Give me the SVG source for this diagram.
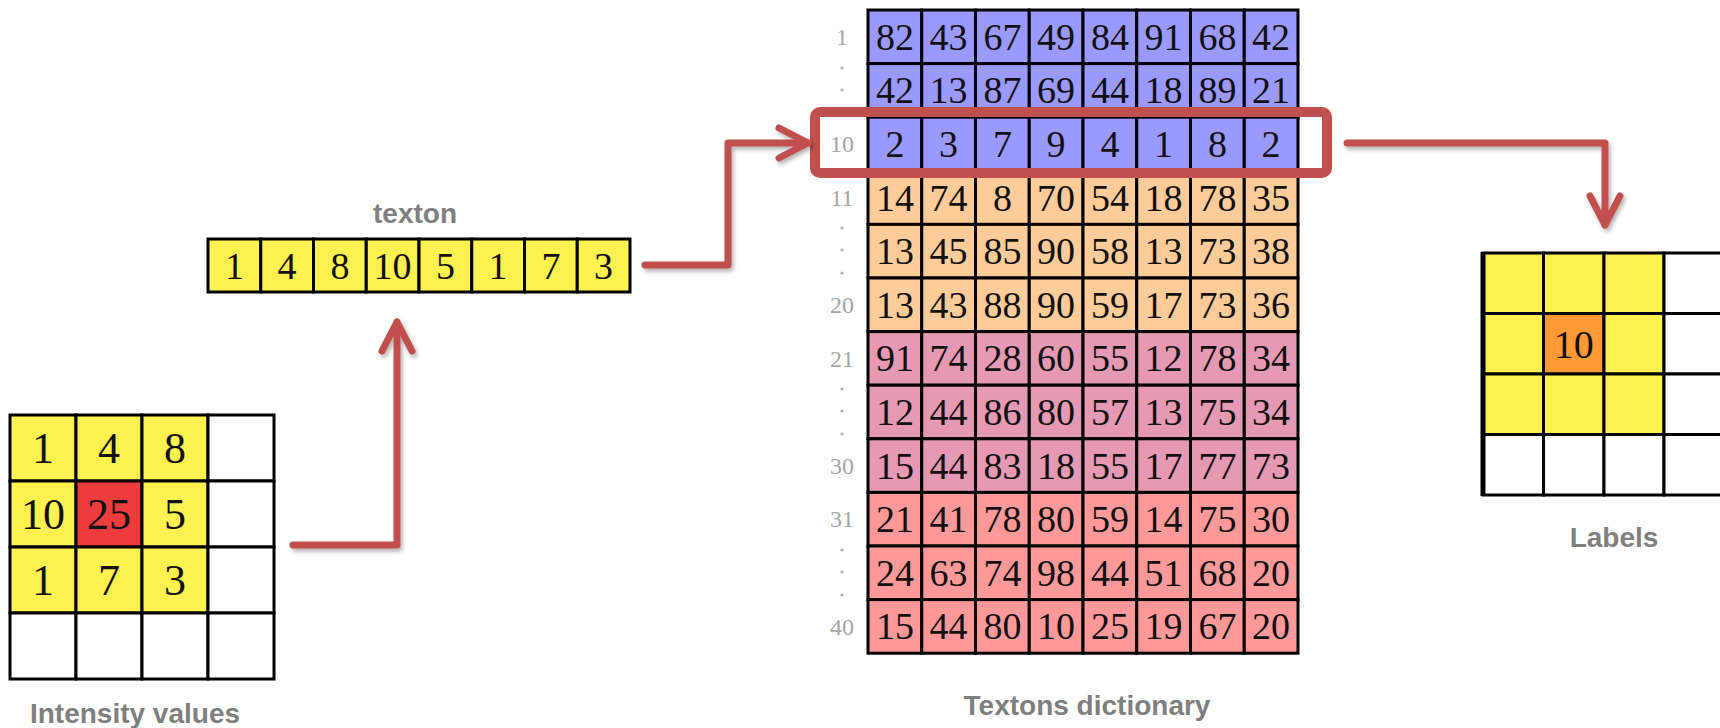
<svg xmlns="http://www.w3.org/2000/svg" width="1720" height="728" viewBox="0 0 1720 728">
<defs>
<style>
.g{stroke:#000;stroke-width:3;}
.y{fill:#fff150;}
.w{fill:#fff;}
.b{fill:#9999ff;}
.o{fill:#ffcc99;}
.p{fill:#e699b3;}
.r{fill:#ff9999;}
.num{font-family:"Liberation Serif","Times New Roman",serif;fill:#111;text-anchor:middle;}
.n44{font-size:44px;}
.n38{font-size:38px;}
.n37{font-size:38px;}
.n40{font-size:40px;}
.rl{font-family:"Liberation Serif",serif;font-size:24px;fill:#a6a6a6;text-anchor:middle;}
.dot{fill:#b0b0b0;}
.cap{font-family:"Liberation Sans",Arial,sans-serif;font-weight:bold;font-size:28px;fill:#7f7f7f;text-anchor:middle;}
.arr{fill:none;stroke:#c0504d;stroke-width:7;stroke-linecap:round;stroke-linejoin:round;}
</style>
<marker id="ah" markerUnits="userSpaceOnUse" viewBox="-40 -22 46 44" refX="0" refY="0" markerWidth="46" markerHeight="44" orient="auto" overflow="visible">
<path d="M -29 -15 L 0 0 L -29 15" fill="none" stroke="#c0504d" stroke-width="7" stroke-linecap="round" stroke-linejoin="round"/>
</marker>
<filter id="sh" x="-20%" y="-20%" width="140%" height="140%">
<feDropShadow dx="2" dy="3" stdDeviation="2" flood-color="#000" flood-opacity="0.3"/>
</filter>
</defs>
<rect width="1720" height="728" fill="#fff"/>

<g id="intensity-grid">
<g class="g" stroke-width="4">
<rect x="10" y="415" width="66" height="66" class="y"/>
<rect x="76" y="415" width="66" height="66" class="y"/>
<rect x="142" y="415" width="66" height="66" class="y"/>
<rect x="208" y="415" width="66" height="66" class="w"/>
<rect x="10" y="481" width="66" height="66" class="y"/>
<rect x="76" y="481" width="66" height="66" fill="#ee3b3b"/>
<rect x="142" y="481" width="66" height="66" class="y"/>
<rect x="208" y="481" width="66" height="66" class="w"/>
<rect x="10" y="547" width="66" height="66" class="y"/>
<rect x="76" y="547" width="66" height="66" class="y"/>
<rect x="142" y="547" width="66" height="66" class="y"/>
<rect x="208" y="547" width="66" height="66" class="w"/>
<rect x="10" y="613" width="66" height="66" class="w"/>
<rect x="76" y="613" width="66" height="66" class="w"/>
<rect x="142" y="613" width="66" height="66" class="w"/>
<rect x="208" y="613" width="66" height="66" class="w"/>
</g>
<g class="num n44">
<text x="43" y="463">1</text><text x="109" y="463">4</text><text x="175" y="463">8</text>
<text x="43" y="529">10</text><text x="109" y="529">25</text><text x="175" y="529">5</text>
<text x="43" y="595">1</text><text x="109" y="595">7</text><text x="175" y="595">3</text>
</g>
<text class="cap" x="135" y="723">Intensity values</text>
</g>

<g id="texton">
<g class="g y">
<rect x="208" y="239" width="52.75" height="53"/>
<rect x="260.75" y="239" width="52.75" height="53"/>
<rect x="313.5" y="239" width="52.75" height="53"/>
<rect x="366.25" y="239" width="52.75" height="53"/>
<rect x="419" y="239" width="52.75" height="53"/>
<rect x="471.75" y="239" width="52.75" height="53"/>
<rect x="524.5" y="239" width="52.75" height="53"/>
<rect x="577.25" y="239" width="52.75" height="53"/>
</g>
<g class="num n38">
<text x="234.4" y="278.5">1</text><text x="287.1" y="278.5">4</text><text x="339.9" y="278.5">8</text><text x="392.6" y="278.5">10</text>
<text x="445.4" y="278.5">5</text><text x="498.1" y="278.5">1</text><text x="550.9" y="278.5">7</text><text x="603.6" y="278.5">3</text>
</g>
<text class="cap" x="415" y="223">texton</text>
</g>

<g id="textons-dictionary">
<g class="g">
<g class="b">
<rect x="868" y="10" width="53.75" height="53.6"/><rect x="921.75" y="10" width="53.75" height="53.6"/><rect x="975.5" y="10" width="53.75" height="53.6"/><rect x="1029.25" y="10" width="53.75" height="53.6"/><rect x="1083" y="10" width="53.75" height="53.6"/><rect x="1136.75" y="10" width="53.75" height="53.6"/><rect x="1190.5" y="10" width="53.75" height="53.6"/><rect x="1244.25" y="10" width="53.75" height="53.6"/>
<rect x="868" y="63.6" width="53.75" height="53.6"/><rect x="921.75" y="63.6" width="53.75" height="53.6"/><rect x="975.5" y="63.6" width="53.75" height="53.6"/><rect x="1029.25" y="63.6" width="53.75" height="53.6"/><rect x="1083" y="63.6" width="53.75" height="53.6"/><rect x="1136.75" y="63.6" width="53.75" height="53.6"/><rect x="1190.5" y="63.6" width="53.75" height="53.6"/><rect x="1244.25" y="63.6" width="53.75" height="53.6"/>
<rect x="868" y="117.2" width="53.75" height="53.6"/><rect x="921.75" y="117.2" width="53.75" height="53.6"/><rect x="975.5" y="117.2" width="53.75" height="53.6"/><rect x="1029.25" y="117.2" width="53.75" height="53.6"/><rect x="1083" y="117.2" width="53.75" height="53.6"/><rect x="1136.75" y="117.2" width="53.75" height="53.6"/><rect x="1190.5" y="117.2" width="53.75" height="53.6"/><rect x="1244.25" y="117.2" width="53.75" height="53.6"/>
</g>
<g class="o">
<rect x="868" y="170.8" width="53.75" height="53.6"/><rect x="921.75" y="170.8" width="53.75" height="53.6"/><rect x="975.5" y="170.8" width="53.75" height="53.6"/><rect x="1029.25" y="170.8" width="53.75" height="53.6"/><rect x="1083" y="170.8" width="53.75" height="53.6"/><rect x="1136.75" y="170.8" width="53.75" height="53.6"/><rect x="1190.5" y="170.8" width="53.75" height="53.6"/><rect x="1244.25" y="170.8" width="53.75" height="53.6"/>
<rect x="868" y="224.4" width="53.75" height="53.6"/><rect x="921.75" y="224.4" width="53.75" height="53.6"/><rect x="975.5" y="224.4" width="53.75" height="53.6"/><rect x="1029.25" y="224.4" width="53.75" height="53.6"/><rect x="1083" y="224.4" width="53.75" height="53.6"/><rect x="1136.75" y="224.4" width="53.75" height="53.6"/><rect x="1190.5" y="224.4" width="53.75" height="53.6"/><rect x="1244.25" y="224.4" width="53.75" height="53.6"/>
<rect x="868" y="278" width="53.75" height="53.6"/><rect x="921.75" y="278" width="53.75" height="53.6"/><rect x="975.5" y="278" width="53.75" height="53.6"/><rect x="1029.25" y="278" width="53.75" height="53.6"/><rect x="1083" y="278" width="53.75" height="53.6"/><rect x="1136.75" y="278" width="53.75" height="53.6"/><rect x="1190.5" y="278" width="53.75" height="53.6"/><rect x="1244.25" y="278" width="53.75" height="53.6"/>
</g>
<g class="p">
<rect x="868" y="331.6" width="53.75" height="53.6"/><rect x="921.75" y="331.6" width="53.75" height="53.6"/><rect x="975.5" y="331.6" width="53.75" height="53.6"/><rect x="1029.25" y="331.6" width="53.75" height="53.6"/><rect x="1083" y="331.6" width="53.75" height="53.6"/><rect x="1136.75" y="331.6" width="53.75" height="53.6"/><rect x="1190.5" y="331.6" width="53.75" height="53.6"/><rect x="1244.25" y="331.6" width="53.75" height="53.6"/>
<rect x="868" y="385.2" width="53.75" height="53.6"/><rect x="921.75" y="385.2" width="53.75" height="53.6"/><rect x="975.5" y="385.2" width="53.75" height="53.6"/><rect x="1029.25" y="385.2" width="53.75" height="53.6"/><rect x="1083" y="385.2" width="53.75" height="53.6"/><rect x="1136.75" y="385.2" width="53.75" height="53.6"/><rect x="1190.5" y="385.2" width="53.75" height="53.6"/><rect x="1244.25" y="385.2" width="53.75" height="53.6"/>
<rect x="868" y="438.8" width="53.75" height="53.6"/><rect x="921.75" y="438.8" width="53.75" height="53.6"/><rect x="975.5" y="438.8" width="53.75" height="53.6"/><rect x="1029.25" y="438.8" width="53.75" height="53.6"/><rect x="1083" y="438.8" width="53.75" height="53.6"/><rect x="1136.75" y="438.8" width="53.75" height="53.6"/><rect x="1190.5" y="438.8" width="53.75" height="53.6"/><rect x="1244.25" y="438.8" width="53.75" height="53.6"/>
</g>
<g class="r">
<rect x="868" y="492.4" width="53.75" height="53.6"/><rect x="921.75" y="492.4" width="53.75" height="53.6"/><rect x="975.5" y="492.4" width="53.75" height="53.6"/><rect x="1029.25" y="492.4" width="53.75" height="53.6"/><rect x="1083" y="492.4" width="53.75" height="53.6"/><rect x="1136.75" y="492.4" width="53.75" height="53.6"/><rect x="1190.5" y="492.4" width="53.75" height="53.6"/><rect x="1244.25" y="492.4" width="53.75" height="53.6"/>
<rect x="868" y="546" width="53.75" height="53.6"/><rect x="921.75" y="546" width="53.75" height="53.6"/><rect x="975.5" y="546" width="53.75" height="53.6"/><rect x="1029.25" y="546" width="53.75" height="53.6"/><rect x="1083" y="546" width="53.75" height="53.6"/><rect x="1136.75" y="546" width="53.75" height="53.6"/><rect x="1190.5" y="546" width="53.75" height="53.6"/><rect x="1244.25" y="546" width="53.75" height="53.6"/>
<rect x="868" y="599.6" width="53.75" height="53.6"/><rect x="921.75" y="599.6" width="53.75" height="53.6"/><rect x="975.5" y="599.6" width="53.75" height="53.6"/><rect x="1029.25" y="599.6" width="53.75" height="53.6"/><rect x="1083" y="599.6" width="53.75" height="53.6"/><rect x="1136.75" y="599.6" width="53.75" height="53.6"/><rect x="1190.5" y="599.6" width="53.75" height="53.6"/><rect x="1244.25" y="599.6" width="53.75" height="53.6"/>
</g>
</g>
<g class="num n37">
<text y="49.7"><tspan x="894.9">82</tspan><tspan x="948.6">43</tspan><tspan x="1002.4">67</tspan><tspan x="1056.1">49</tspan><tspan x="1109.9">84</tspan><tspan x="1163.6">91</tspan><tspan x="1217.4">68</tspan><tspan x="1271.1">42</tspan></text>
<text y="103.3"><tspan x="894.9">42</tspan><tspan x="948.6">13</tspan><tspan x="1002.4">87</tspan><tspan x="1056.1">69</tspan><tspan x="1109.9">44</tspan><tspan x="1163.6">18</tspan><tspan x="1217.4">89</tspan><tspan x="1271.1">21</tspan></text>
<text y="156.9"><tspan x="894.9">2</tspan><tspan x="948.6">3</tspan><tspan x="1002.4">7</tspan><tspan x="1056.1">9</tspan><tspan x="1109.9">4</tspan><tspan x="1163.6">1</tspan><tspan x="1217.4">8</tspan><tspan x="1271.1">2</tspan></text>
<text y="210.5"><tspan x="894.9">14</tspan><tspan x="948.6">74</tspan><tspan x="1002.4">8</tspan><tspan x="1056.1">70</tspan><tspan x="1109.9">54</tspan><tspan x="1163.6">18</tspan><tspan x="1217.4">78</tspan><tspan x="1271.1">35</tspan></text>
<text y="264.1"><tspan x="894.9">13</tspan><tspan x="948.6">45</tspan><tspan x="1002.4">85</tspan><tspan x="1056.1">90</tspan><tspan x="1109.9">58</tspan><tspan x="1163.6">13</tspan><tspan x="1217.4">73</tspan><tspan x="1271.1">38</tspan></text>
<text y="317.7"><tspan x="894.9">13</tspan><tspan x="948.6">43</tspan><tspan x="1002.4">88</tspan><tspan x="1056.1">90</tspan><tspan x="1109.9">59</tspan><tspan x="1163.6">17</tspan><tspan x="1217.4">73</tspan><tspan x="1271.1">36</tspan></text>
<text y="371.3"><tspan x="894.9">91</tspan><tspan x="948.6">74</tspan><tspan x="1002.4">28</tspan><tspan x="1056.1">60</tspan><tspan x="1109.9">55</tspan><tspan x="1163.6">12</tspan><tspan x="1217.4">78</tspan><tspan x="1271.1">34</tspan></text>
<text y="424.9"><tspan x="894.9">12</tspan><tspan x="948.6">44</tspan><tspan x="1002.4">86</tspan><tspan x="1056.1">80</tspan><tspan x="1109.9">57</tspan><tspan x="1163.6">13</tspan><tspan x="1217.4">75</tspan><tspan x="1271.1">34</tspan></text>
<text y="478.5"><tspan x="894.9">15</tspan><tspan x="948.6">44</tspan><tspan x="1002.4">83</tspan><tspan x="1056.1">18</tspan><tspan x="1109.9">55</tspan><tspan x="1163.6">17</tspan><tspan x="1217.4">77</tspan><tspan x="1271.1">73</tspan></text>
<text y="532.1"><tspan x="894.9">21</tspan><tspan x="948.6">41</tspan><tspan x="1002.4">78</tspan><tspan x="1056.1">80</tspan><tspan x="1109.9">59</tspan><tspan x="1163.6">14</tspan><tspan x="1217.4">75</tspan><tspan x="1271.1">30</tspan></text>
<text y="585.7"><tspan x="894.9">24</tspan><tspan x="948.6">63</tspan><tspan x="1002.4">74</tspan><tspan x="1056.1">98</tspan><tspan x="1109.9">44</tspan><tspan x="1163.6">51</tspan><tspan x="1217.4">68</tspan><tspan x="1271.1">20</tspan></text>
<text y="639.3"><tspan x="894.9">15</tspan><tspan x="948.6">44</tspan><tspan x="1002.4">80</tspan><tspan x="1056.1">10</tspan><tspan x="1109.9">25</tspan><tspan x="1163.6">19</tspan><tspan x="1217.4">67</tspan><tspan x="1271.1">20</tspan></text>
</g>
<g class="rl">
<text x="842" y="45">1</text>
<text x="842" y="152">10</text>
<text x="842" y="206">11</text>
<text x="842" y="313">20</text>
<text x="842" y="367">21</text>
<text x="842" y="474">30</text>
<text x="842" y="527">31</text>
<text x="842" y="635">40</text>
</g>
<g class="dot">
<circle cx="842" cy="68" r="1.6"/><circle cx="842" cy="90" r="1.6"/>
<circle cx="842" cy="228" r="1.6"/><circle cx="842" cy="250" r="1.6"/><circle cx="842" cy="273" r="1.6"/>
<circle cx="842" cy="389" r="1.6"/><circle cx="842" cy="411" r="1.6"/><circle cx="842" cy="434" r="1.6"/>
<circle cx="842" cy="550" r="1.6"/><circle cx="842" cy="572" r="1.6"/><circle cx="842" cy="595" r="1.6"/>
</g>
<text class="cap" x="1087" y="715">Textons dictionary</text>
</g>

<g id="selected-row-highlight">
<rect x="815" y="112" width="512" height="61" rx="5" fill="none" stroke="#c0504d" stroke-width="10"/>
</g>

<g id="labels-grid">
<g class="g">
<rect x="1483" y="253" width="60.5" height="60.5" class="y"/>
<rect x="1543.5" y="253" width="60.5" height="60.5" class="y"/>
<rect x="1604" y="253" width="60" height="60.5" class="y"/>
<rect x="1664" y="253" width="62" height="60.5" class="w"/>
<rect x="1483" y="313.5" width="60.5" height="60.5" class="y"/>
<rect x="1543.5" y="313.5" width="60.5" height="60.5" fill="#ff9933"/>
<rect x="1604" y="313.5" width="60" height="60.5" class="y"/>
<rect x="1664" y="313.5" width="62" height="60.5" class="w"/>
<rect x="1483" y="374" width="60.5" height="60.5" class="y"/>
<rect x="1543.5" y="374" width="60.5" height="60.5" class="y"/>
<rect x="1604" y="374" width="60" height="60.5" class="y"/>
<rect x="1664" y="374" width="62" height="60.5" class="w"/>
<rect x="1483" y="434.5" width="60.5" height="60.5" class="w"/>
<rect x="1543.5" y="434.5" width="60.5" height="60.5" class="w"/>
<rect x="1604" y="434.5" width="60" height="60.5" class="w"/>
<rect x="1664" y="434.5" width="62" height="60.5" class="w"/>
</g>
<line x1="1483" y1="252" x2="1483" y2="496" stroke="#000" stroke-width="5"/>
<text class="num n40" x="1573.8" y="357.5" textLength="40" lengthAdjust="spacingAndGlyphs">10</text>
<text class="cap" x="1614" y="547">Labels</text>
</g>

<g id="connectors" filter="url(#sh)">
<path class="arr" d="M 293 545 H 397 V 322" marker-end="url(#ah)"/>
<path class="arr" d="M 645 265 H 728 V 143 H 808" marker-end="url(#ah)"/>
<path class="arr" d="M 1347 143 H 1605 V 225" marker-end="url(#ah)"/>
</g>
</svg>
